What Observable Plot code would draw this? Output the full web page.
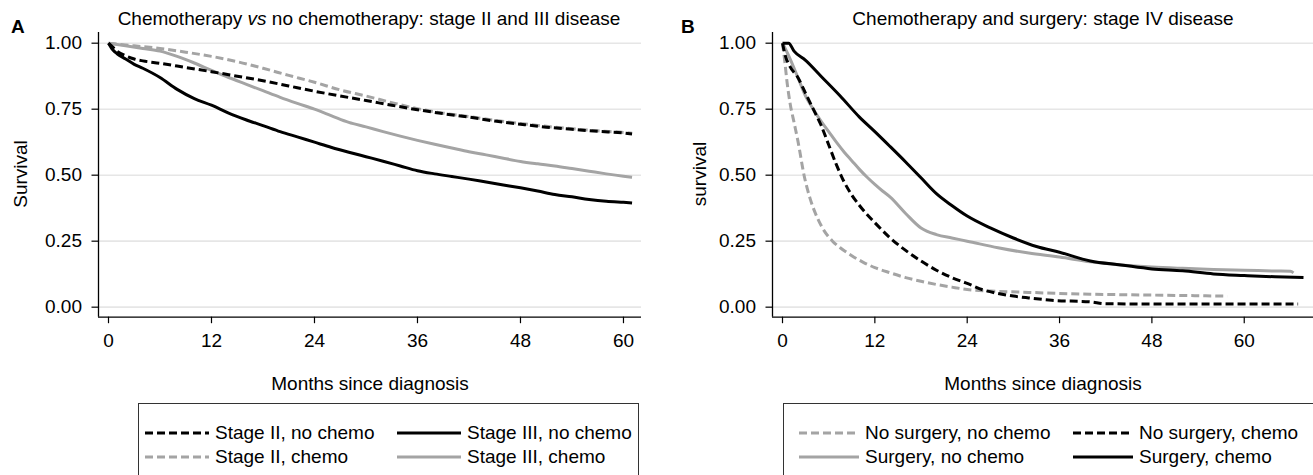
<!DOCTYPE html>
<html>
<head>
<meta charset="utf-8">
<script src="https://cdn.jsdelivr.net/npm/d3@7"></script>
<script src="https://cdn.jsdelivr.net/npm/@observablehq/plot@0.6"></script>
<style>
  html, body { margin: 0; padding: 0; background: #fff; }
  #root { position: relative; width: 1313px; height: 475px; overflow: hidden; background: #fff;
          font-family: "Liberation Sans", Arial, Helvetica, sans-serif; color: #000; }
  .abs { position: absolute; white-space: nowrap; line-height: 1; }
  .letter { font-weight: bold; font-size: 19px; }
  .title { font-size: 19px; transform: translateX(-50%); }
  .xlab { font-size: 19px; transform: translate(-50%, -50%); }
  .ylab { font-size: 19px; transform: translate(-50%, -50%) rotate(-90deg); }
  .legend { position: absolute; border: 1px solid #333; background: #fff; box-sizing: border-box; }
  .legend .item { position: absolute; display: flex; align-items: center; font-size: 19px; line-height: 1; white-space: nowrap; }
  .legend svg { display: block; margin-right: 6px; }
  .plot { position: absolute; top: 0; }
</style>
</head>
<body>
<div id="root"></div>
<script>
// ---------- tick labels ----------
const xTicks = [0, 12, 24, 36, 48, 60];
const yTicks = [0, 0.25, 0.5, 0.75, 1.0];

// ---------- Panel A: Chemotherapy vs no chemotherapy, stage II and III ----------
const monthsA_s2nc = [0,0.5,1,2,3,4,6,9,12,15,18,21,24,27,30,33,36,39,42,45,48,51,54,57,60,61];
const survA_s2nc   = [1.0,0.985,0.97,0.952,0.94,0.933,0.924,0.908,0.892,0.875,0.858,0.838,0.818,0.8,0.783,0.765,0.748,0.733,0.72,0.705,0.693,0.682,0.674,0.666,0.66,0.656];

const monthsA_s2c = [0,3,6,9,12,15,18,21,24,27,30,33,36,39,42,45,48,51,54,57,60,61];
const survA_s2c   = [1.0,0.99,0.98,0.966,0.95,0.93,0.905,0.878,0.852,0.823,0.8,0.775,0.752,0.735,0.722,0.708,0.696,0.685,0.676,0.668,0.662,0.659];

const monthsA_s3nc = [0,0.5,1,2,3,4,6,8,10,12,14,16,18,20,22,24,26,28,30,32,34,36,38,40,42,44,46,48,50,52,54,56,58,60,61];
const survA_s3nc   = [1.0,0.975,0.96,0.94,0.92,0.905,0.87,0.825,0.79,0.765,0.735,0.71,0.688,0.665,0.645,0.625,0.605,0.587,0.57,0.553,0.535,0.517,0.505,0.495,0.485,0.474,0.463,0.452,0.44,0.427,0.418,0.408,0.401,0.397,0.395];

const monthsA_s3c = [0,2,4,6,8,10,12,14,16,18,20,22,24,26,28,30,32,34,36,38,40,42,44,46,48,50,52,54,56,58,60,61];
const survA_s3c   = [1.0,0.99,0.98,0.97,0.95,0.925,0.897,0.87,0.845,0.82,0.795,0.772,0.75,0.725,0.7,0.683,0.665,0.648,0.632,0.617,0.603,0.589,0.577,0.564,0.552,0.543,0.535,0.525,0.515,0.505,0.496,0.492];

// ---------- Panel B: Chemotherapy and surgery, stage IV ----------
const monthsB_nsnc = [0,0.3,0.6,1,1.5,2,2.8,3.6,4.5,5.4,6.5,7.5,9,10.5,12,14,16,18,20,22,24,28,32,36,40,45,50,55,57.8];
const survB_nsnc   = [1.0,0.93,0.85,0.77,0.7,0.63,0.5,0.41,0.34,0.29,0.25,0.225,0.195,0.17,0.15,0.13,0.112,0.098,0.086,0.076,0.067,0.06,0.056,0.052,0.049,0.047,0.045,0.043,0.042];

const monthsB_nsc = [0,0.3,1,2,3,4,5,6,7,8,9,10,12,14,16,18,20,22,24,26,28,30,32,35,40,42,50,60,67];
const survB_nsc   = [1.0,0.96,0.91,0.87,0.81,0.75,0.69,0.615,0.54,0.475,0.425,0.385,0.32,0.262,0.215,0.175,0.14,0.112,0.09,0.066,0.052,0.042,0.035,0.026,0.02,0.013,0.012,0.012,0.012];

const monthsB_snc = [0,1,2,3,4,5,6,7,8,9,10,11,12,13,14,16,18,20,22,24,28,32,36,40,44,48,52,56,60,64,66,66.4];
const survB_snc   = [1.0,0.94,0.87,0.8,0.75,0.705,0.665,0.625,0.588,0.555,0.522,0.492,0.465,0.44,0.417,0.355,0.3,0.275,0.262,0.25,0.225,0.205,0.19,0.172,0.16,0.152,0.147,0.143,0.14,0.137,0.136,0.13];

const monthsB_sc = [0,0.8,1.5,3,5,7.5,10,12,14,16,18,20,22,24,27,30,33,36,40,44,48,52,56,60,64,67.7];
const survB_sc   = [1.0,1.0,0.97,0.935,0.875,0.8,0.72,0.665,0.608,0.55,0.49,0.43,0.385,0.345,0.3,0.262,0.23,0.208,0.175,0.16,0.145,0.138,0.126,0.12,0.115,0.112];

// ---------- series labels & styles (kept separate from the data) ----------
const BLACK = "#000000", GRAY = "#a4a4a4", DASH = "8,4";
const seriesA = [
  {name: "Stage II, no chemo",  months: monthsA_s2nc, surv: survA_s2nc, color: BLACK, dash: DASH},
  {name: "Stage III, no chemo", months: monthsA_s3nc, surv: survA_s3nc, color: BLACK, dash: null},
  {name: "Stage II, chemo",     months: monthsA_s2c,  surv: survA_s2c,  color: GRAY,  dash: DASH},
  {name: "Stage III, chemo",    months: monthsA_s3c,  surv: survA_s3c,  color: GRAY,  dash: null}
];
const drawOrderA = [2, 3, 0, 1];
const seriesB = [
  {name: "No surgery, no chemo", months: monthsB_nsnc, surv: survB_nsnc, color: GRAY,  dash: DASH},
  {name: "No surgery, chemo",    months: monthsB_nsc,  surv: survB_nsc,  color: BLACK, dash: DASH},
  {name: "Surgery, no chemo",    months: monthsB_snc,  surv: survB_snc,  color: GRAY,  dash: null},
  {name: "Surgery, chemo",       months: monthsB_sc,   surv: survB_sc,   color: BLACK, dash: null}
];
const drawOrderB = [0, 2, 1, 3];

const FONT = '"Liberation Sans", Arial, Helvetica, sans-serif';
const root = document.getElementById("root");

function rows(s) { return s.months.map((m, i) => ({month: m, surv: s.surv[i]})); }

function makePanel(cfg) {
  const yDomain = [-0.038, 1.0405];
  const lines = cfg.order.map(i => {
    const s = cfg.series[i];
    return Plot.line(rows(s), {x: "month", y: "surv", stroke: s.color, strokeWidth: 3,
      strokeDasharray: s.dash || undefined, strokeLinejoin: "round", strokeLinecap: "butt", curve: "monotone-x"});
  });
  const svg = Plot.plot({
    width: cfg.width, height: 400,
    marginTop: 32, marginBottom: 83.3, marginLeft: cfg.marginLeft, marginRight: cfg.marginRight,
    x: {domain: cfg.xDomain},
    y: {domain: yDomain},
    style: {fontFamily: FONT, fontSize: "19px", color: "#000", background: "transparent", overflow: "visible"},
    marks: [
      Plot.gridY(yTicks, {stroke: "#e6e6e6", strokeOpacity: 1, strokeWidth: 1.6}),
      Plot.axisY(yTicks, {tickFormat: d3.format(".2f"), tickSize: 6.5, tickPadding: 10, label: null, strokeWidth: 1.2}),
      Plot.axisX(xTicks, {tickSize: 6.5, tickPadding: 10, label: null, strokeWidth: 1.2}),
      Plot.ruleX([cfg.xDomain[0]], {stroke: "#000", strokeWidth: 1.3}),
      Plot.ruleY([yDomain[0]], {stroke: "#000", strokeWidth: 1.3}),
      ...lines
    ]
  });
  svg.classList.add("plot");
  svg.style.left = cfg.left + "px";
  root.appendChild(svg);
}

function addText(cls, text, left, top, html) {
  const d = document.createElement("div");
  d.className = "abs " + cls;
  if (html) d.innerHTML = text; else d.textContent = text;
  d.style.left = left + "px";
  d.style.top = top + "px";
  root.appendChild(d);
}

function makeLegend(series, box, cols, rowsY, swatchW) {
  const lg = document.createElement("div");
  lg.className = "legend";
  lg.style.left = box.left + "px"; lg.style.top = box.top + "px";
  lg.style.width = box.width + "px"; lg.style.height = box.height + "px";
  series.forEach((s, i) => {
    const item = document.createElement("div");
    item.className = "item";
    item.style.left = cols[i % 2] + "px";
    item.style.top = rowsY[Math.floor(i / 2)] + "px";
    const ns = "http://www.w3.org/2000/svg";
    const sv = document.createElementNS(ns, "svg");
    sv.setAttribute("width", swatchW); sv.setAttribute("height", 10);
    const ln = document.createElementNS(ns, "line");
    ln.setAttribute("x1", 0); ln.setAttribute("x2", swatchW);
    ln.setAttribute("y1", 5); ln.setAttribute("y2", 5);
    ln.setAttribute("stroke", s.color); ln.setAttribute("stroke-width", 3);
    if (s.dash) ln.setAttribute("stroke-dasharray", s.dash);
    sv.appendChild(ln);
    const t = document.createElement("span");
    t.textContent = s.name;
    item.appendChild(sv); item.appendChild(t);
    lg.appendChild(item);
  });
  root.appendChild(lg);
}

// Panel A
makePanel({left: 0, width: 656, marginLeft: 98, marginRight: 15, xDomain: [-1.165, 62.1],
           series: seriesA, order: drawOrderA});
// Panel B
makePanel({left: 656, width: 657, marginLeft: 116, marginRight: 0, xDomain: [-1.3, 69.0],
           series: seriesB, order: drawOrderB});

// Panel letters and titles
addText("letter", "A", 11, 17);
addText("letter", "B", 681, 17);
addText("title", "Chemotherapy <i>vs</i> no chemotherapy: stage II and III disease", 369, 9, true);
addText("title", "Chemotherapy and surgery: stage IV disease", 1043, 9);

// Axis titles
addText("ylab", "Survival", 20, 174);
addText("ylab", "survival", 699, 174);
addText("xlab", "Months since diagnosis", 370, 383);
addText("xlab", "Months since diagnosis", 1043, 383);

// Legends (inner offsets relative to box)
makeLegend([seriesA[0], seriesA[1], seriesA[2], seriesA[3]],
           {left: 138, top: 403, width: 501, height: 90}, [6, 258], [19, 43], 64);
makeLegend([seriesB[0], seriesB[1], seriesB[2], seriesB[3]],
           {left: 783, top: 403, width: 560, height: 90}, [15, 289], [19, 43], 60);
</script>
</body>
</html>
